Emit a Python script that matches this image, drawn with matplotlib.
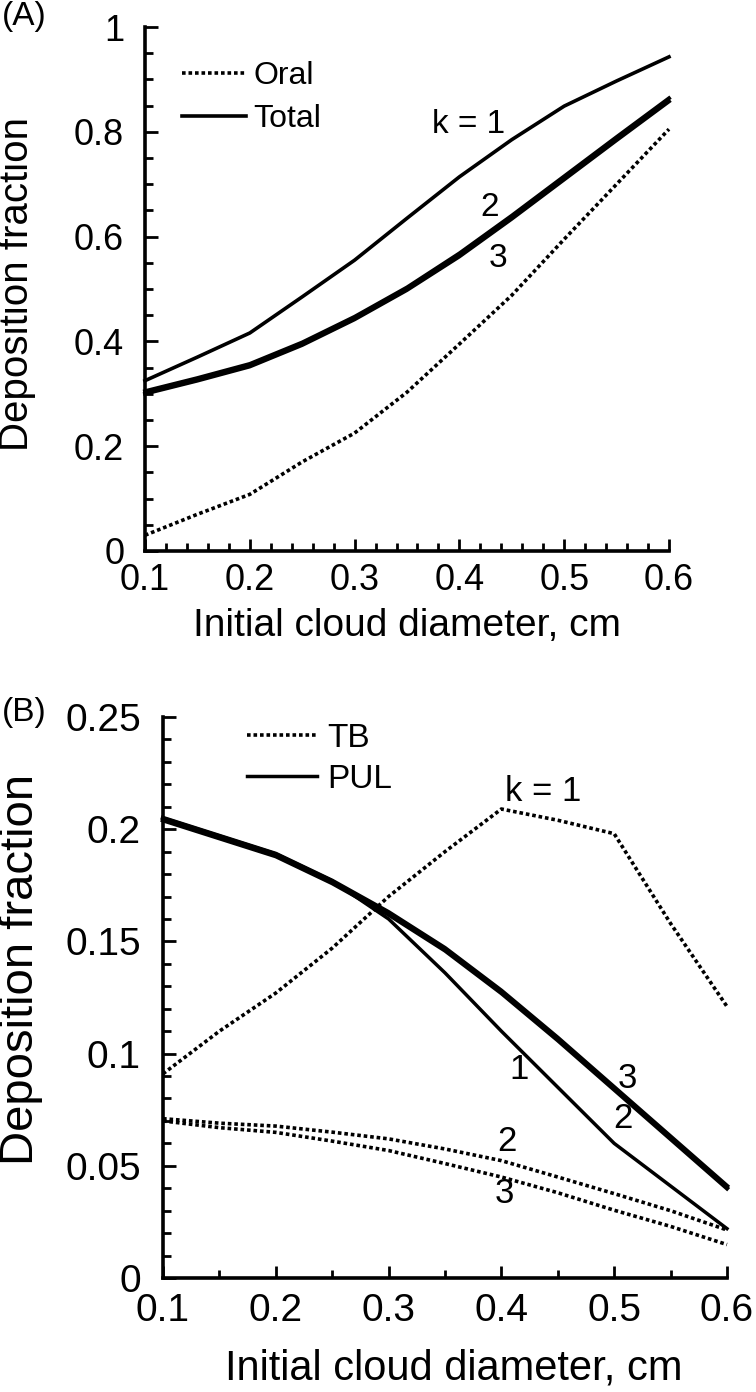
import matplotlib
matplotlib.use("Agg")
import matplotlib.pyplot as plt
from matplotlib.ticker import MultipleLocator, FormatStrFormatter, FuncFormatter

plt.rcParams['font.family'] = ['Liberation Sans', 'DejaVu Sans']

# ---------------- data ----------------
diam = [0.1, 0.15, 0.2, 0.25, 0.3, 0.35, 0.4, 0.45, 0.5, 0.55, 0.6]

# Panel A
oral = [0.03, 0.07, 0.108, 0.17, 0.225, 0.303, 0.395, 0.488, 0.595, 0.70, 0.805]
total_k1 = [0.325, 0.37, 0.416, 0.485, 0.555, 0.635, 0.714, 0.785, 0.849, 0.897, 0.943]
total_k2 = [0.305, 0.33, 0.357, 0.398, 0.447, 0.503, 0.568, 0.64, 0.715, 0.79, 0.864]
total_k3 = [0.300, 0.325, 0.352, 0.393, 0.442, 0.498, 0.562, 0.634, 0.709, 0.784, 0.858]

# Panel B
tb_k1 = [0.091, 0.110, 0.127, 0.147, 0.170, 0.190, 0.209, 0.204, 0.198, 0.158, 0.121]
tb_k2 = [0.071, 0.069, 0.0677, 0.065, 0.062, 0.0575, 0.0523, 0.045, 0.0376, 0.030, 0.0214]
tb_k3 = [0.070, 0.067, 0.0649, 0.061, 0.0568, 0.051, 0.045, 0.038, 0.0302, 0.023, 0.0149]
pul_k1 = [0.205, 0.197, 0.189, 0.177, 0.160, 0.136, 0.110, 0.085, 0.060, 0.041, 0.022]
pul_k2 = [0.204, 0.196, 0.188, 0.176, 0.162, 0.146, 0.127, 0.106, 0.084, 0.062, 0.040]
pul_k3 = [0.205, 0.197, 0.189, 0.177, 0.163, 0.147, 0.128, 0.107, 0.085, 0.063, 0.041]

xlabel = "Initial cloud diameter, cm"
ylabel = "Deposition fraction"

DOT = (0, (1.0, 0.8))

fig = plt.figure(figsize=(7.56, 13.92), dpi=100)


def style_axes(ax, xmin, xmaj, ymaj, ymin, ytop, tick_fs, xpad, ypad):
    for s in ['top', 'right']:
        ax.spines[s].set_visible(False)
    for s in ['left', 'bottom']:
        ax.spines[s].set_linewidth(2.6)
    ax.set_xlim(0.1, 0.6)
    ax.set_ylim(0, ytop)
    ax.xaxis.set_major_locator(MultipleLocator(xmaj))
    ax.xaxis.set_minor_locator(MultipleLocator(xmin))
    ax.yaxis.set_major_locator(MultipleLocator(ymaj))
    ax.yaxis.set_minor_locator(MultipleLocator(ymin))
    ax.tick_params(which='both', direction='in', width=2.0, top=False, right=False)
    ax.tick_params(which='major', length=9, labelsize=tick_fs)
    ax.tick_params(which='minor', length=5.5)
    ax.tick_params(axis='y', which='major', pad=ypad)
    ax.tick_params(axis='x', which='major', pad=xpad)


# ---------------- Panel A ----------------
axA = fig.add_axes([0.1918, 0.6042, 0.6931, 0.3764])
axA.plot(diam, oral, color='black', lw=2.6, linestyle=DOT, clip_on=False, label='Oral')
axA.plot(diam, total_k1, color='black', lw=2.6, clip_on=False, label='Total')
axA.plot(diam, total_k2, color='black', lw=2.8, clip_on=False)
axA.plot(diam, total_k3, color='black', lw=2.8, clip_on=False)
style_axes(axA, 0.02, 0.1, 0.2, 0.05, 1.0, 26, 9, 15)
axA.xaxis.set_major_formatter(FormatStrFormatter('%.1f'))
axA.yaxis.set_major_formatter(FuncFormatter(
    lambda v, p: '0' if abs(v) < 1e-9 else ('1' if abs(v - 1) < 1e-9 else f'{v:.1f}')))
axA.set_xlabel(xlabel, fontsize=28, labelpad=7)
axA.set_ylabel(ylabel, fontsize=29)
axA.yaxis.set_label_coords(-0.208, 0.51)
axA.legend(loc='upper left', bbox_to_anchor=(0.07, 0.935), frameon=False,
           fontsize=23, handlelength=2.0, handletextpad=0.25, labelspacing=0.4,
           borderpad=0, borderaxespad=0)
axA.text(0.409, 0.813, 'k = 1', fontsize=24, ha='center', va='center')
axA.text(0.429, 0.656, '2', fontsize=24, ha='center', va='center')
axA.text(0.437, 0.559, '3', fontsize=24, ha='center', va='center')
fig.text(0.002, 0.999, '(A)', fontsize=24, ha='left', va='top')

# ---------------- Panel B ----------------
axB = fig.add_axes([0.2156, 0.0819, 0.746, 0.403])
axB.plot(diam, tb_k1, color='black', lw=2.6, linestyle=DOT, clip_on=False, label='TB')
axB.plot(diam, tb_k2, color='black', lw=2.6, linestyle=DOT, clip_on=False)
axB.plot(diam, tb_k3, color='black', lw=2.6, linestyle=DOT, clip_on=False)
axB.plot(diam, pul_k1, color='black', lw=2.5, clip_on=False, label='PUL')
axB.plot(diam, pul_k2, color='black', lw=3.2, clip_on=False)
axB.plot(diam, pul_k3, color='black', lw=3.2, clip_on=False)
style_axes(axB, 0.05, 0.1, 0.05, 0.01, 0.25, 28, 11, 16)
axB.xaxis.set_major_formatter(FormatStrFormatter('%.1f'))
axB.yaxis.set_major_formatter(FuncFormatter(
    lambda v, p: '0' if abs(v) < 1e-9 else f'{v:g}'))
axB.set_xlabel(xlabel, fontsize=30)
axB.xaxis.set_label_coords(0.515, -0.125)
axB.set_ylabel(ylabel, fontsize=34)
axB.yaxis.set_label_coords(-0.212, 0.55)
axB.legend(loc='upper left', bbox_to_anchor=(0.149, 0.99), frameon=False,
           fontsize=24, handlelength=2.1, handletextpad=0.3, labelspacing=0.3,
           borderpad=0, borderaxespad=0)
axB.text(0.437, 0.217, 'k = 1', fontsize=25, ha='center', va='center')
axB.text(0.416, 0.093, '1', fontsize=25, ha='center', va='center')
axB.text(0.512, 0.089, '3', fontsize=25, ha='center', va='center')
axB.text(0.508, 0.071, '2', fontsize=25, ha='center', va='center')
axB.text(0.405, 0.061, '2', fontsize=25, ha='center', va='center')
axB.text(0.403, 0.0375, '3', fontsize=25, ha='center', va='center')
fig.text(0.002, 0.499, '(B)', fontsize=24, ha='left', va='top')

fig.savefig('out.png', dpi=100)
